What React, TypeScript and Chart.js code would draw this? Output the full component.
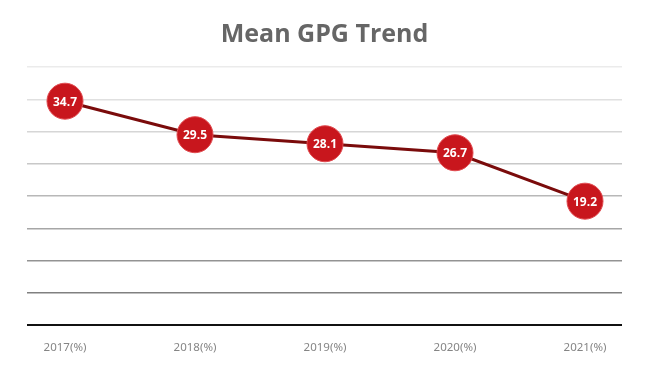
import React, { useEffect, useRef } from "react";
import { Chart, registerables } from "chart.js";

Chart.register(...registerables);

const categories = ["2017(%)", "2018(%)", "2019(%)", "2020(%)", "2021(%)"];
const meanGpg = [34.7, 29.5, 28.1, 26.7, 19.2];
const gridColors = ["#111111", "#808080", "#939393", "#a6a6a6", "#b8b8b8", "#c8c8c8", "#d6d6d6", "#e0e0e0", "#ebebeb"];

const pointLabels = {
  id: "pointLabels",
  afterDatasetsDraw(chart: any) {
    const ctx = chart.ctx;
    const meta = chart.getDatasetMeta(0);
    ctx.save();
    ctx.fillStyle = "#ffffff";
    ctx.font = "bold 12px 'Open Sans'";
    ctx.textAlign = "center";
    ctx.textBaseline = "middle";
    meta.data.forEach((el: any, i: number) => {
      ctx.fillText(meanGpg[i].toFixed(1), el.x, el.y + 1);
    });
    ctx.restore();
  },
};

export default function App() {
  const ref = useRef<HTMLCanvasElement>(null);
  useEffect(() => {
    document.body.style.margin = "0";
    const chart = new Chart(ref.current!, {
      type: "line",
      data: {
        datasets: [
          {
            data: meanGpg.map((v, i) => ({ x: i, y: v })),
            borderColor: "#7a0b0b",
            borderWidth: 3,
            pointRadius: 18,
            pointBackgroundColor: "#c8161d",
            pointBorderColor: "#e04a4f",
            pointBorderWidth: 1,
            tension: 0,
          },
        ],
      },
      options: {
        animation: false,
        responsive: false,
        layout: { padding: { left: 27, right: 28, top: 0, bottom: 12 } },
        plugins: {
          legend: { display: false },
          tooltip: { enabled: false },
          title: {
            display: true,
            text: "Mean GPG Trend",
            color: "#666666",
            font: { family: "'Open Sans'", size: 25, weight: "bold" },
            padding: { top: 20, bottom: 17 },
          },
        },
        scales: {
          x: {
            type: "linear",
            min: -0.2923,
            max: 4.2846,
            afterBuildTicks: (scale: any) => {
              scale.ticks = categories.map((_, i) => ({ value: i }));
            },
            afterFit: (scale: any) => {
              scale.height = 29;
            },
            ticks: {
              callback: (v: any) => categories[v] ?? "",
              color: "#858585",
              font: { family: "'Noto Sans'", size: 11.5 },
              padding: 16,
              maxRotation: 0,
              autoSkip: false,
            },
            grid: { display: false, drawTicks: false },
            border: { display: false },
          },
          y: {
            min: 0,
            max: 40,
            ticks: { display: false, stepSize: 5 },
            grid: {
              drawTicks: false,
              color: (c: any) => gridColors[c.index] ?? "#cccccc",
              lineWidth: (c: any) => (c.index === 0 ? 2 : 1.5),
            },
            border: { display: false },
          },
        },
      },
      plugins: [pointLabels],
    });
    return () => chart.destroy();
  }, []);
  return <canvas ref={ref} width={650} height={366} />;
}
